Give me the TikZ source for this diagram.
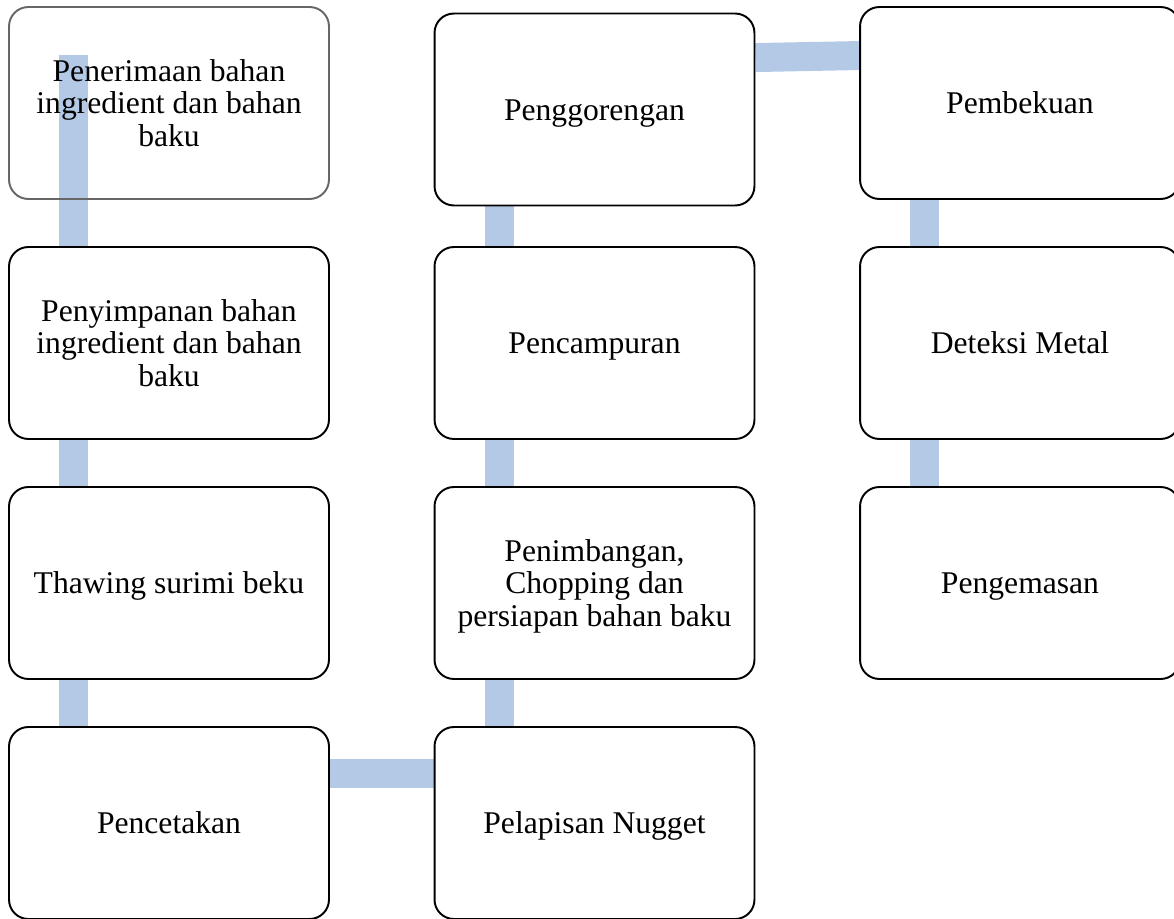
\documentclass[tikz,border=0pt]{standalone}
\usepackage{fontspec}
\setmainfont{Liberation Serif}
\usetikzlibrary{calc,backgrounds}

\definecolor{alurbiru}{RGB}{180,201,230}
\definecolor{garisabu}{RGB}{102,102,102}

\tikzset{
  tahap/.style={draw=black, line width=1.1pt, rounded corners=11pt, fill=white,
    minimum width=6.4cm, minimum height=3.84cm, align=center,
    font=\fontsize{18}{18.6}\selectfont, inner sep=0pt,
    execute at begin node=\rule{0pt}{12pt}, text depth=0pt},
  alur/.style={draw=alurbiru, line width=0.58cm, line cap=butt}
}

\begin{document}
\begin{tikzpicture}[x=0.02cm,y=-0.02cm]
\useasboundingbox (0,0) rectangle (1174,919);

\node[tahap, draw=garisabu, fill=none] (terima) at (169,103) {Penerimaan bahan\\ingredient dan bahan\\baku};
\node[tahap] (simpan) at (169,343) {Penyimpanan bahan\\ingredient dan bahan\\baku};
\node[tahap] (thaw) at (169,583) {Thawing surimi beku};
\node[tahap] (cetak) at (169,823) {Pencetakan};

\node[tahap] (nugget) at (594.5,823) {Pelapisan Nugget};
\node[tahap] (timbang) at (594.5,583) {Penimbangan,\\Chopping dan\\persiapan bahan baku};
\node[tahap] (campur) at (594.5,343) {Pencampuran};
\node[tahap] (goreng) at (594.5,109.5) {Penggorengan};

\node[tahap] (beku) at (1020,103) {Pembekuan};
\node[tahap] (metal) at (1020,343) {Deteksi Metal};
\node[tahap] (kemas) at (1020,583) {Pengemasan};

\begin{scope}[on background layer]
\coordinate (a1) at ($(terima.north west)+(65.5,49)$);
\draw[alur] (a1) -- (a1 |- cetak.north);
\draw[alur] ($(cetak.north east)+(0,47)$) -- ($(nugget.north west)+(0,47)$);
\draw[alur] ($(nugget.north west)+(65.5,0)$) -- ($(goreng.south west)+(65.5,0)$);
\draw[alur] ($(goreng.north east)+(0,45)$) -- ($(beku.north west)+(0,49.5)$);
\draw[alur] ($(beku.south west)+(65.5,0)$) -- ($(kemas.north west)+(65.5,0)$);
\end{scope}
\end{tikzpicture}
\end{document}
